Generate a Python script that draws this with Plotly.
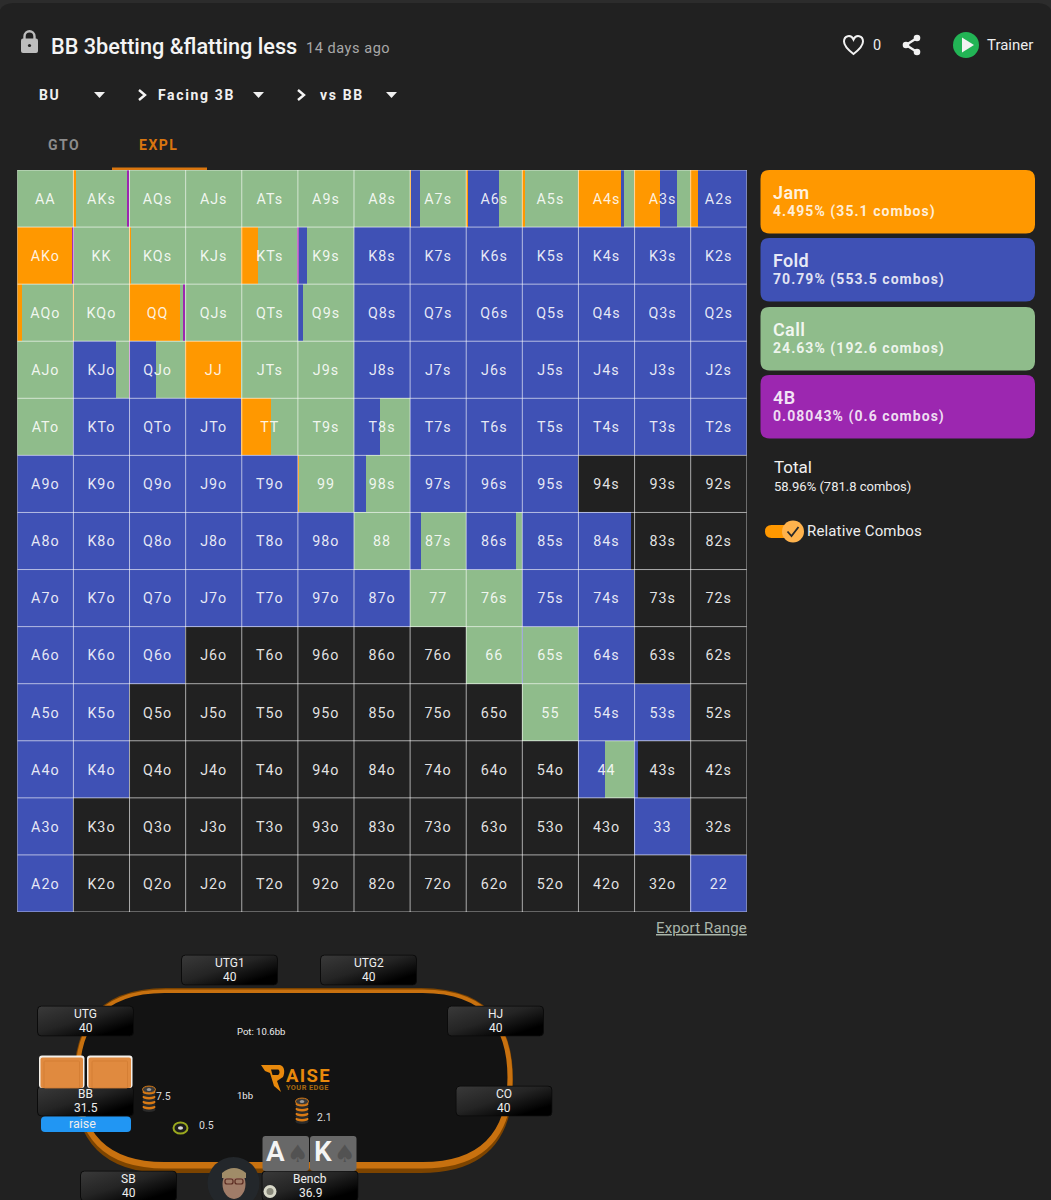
import urllib.parse
import plotly.graph_objects as go

# ---------- data ----------
ranks = ["A", "K", "Q", "J", "T", "9", "8", "7", "6", "5", "4", "3", "2"]
action_names = ["Jam", "Fold", "Call", "4B"]
action_pct = ["4.495% (35.1 combos)", "70.79% (553.5 combos)", "24.63% (192.6 combos)", "0.08043% (0.6 combos)"]
action_colors = {"Jam": "#ff9800", "Fold": "#3f51b5", "Call": "#8fbc8b", "4B": "#9c27b0"}

# every hand at 100% of one action
pure_call = ["AA", "AQs", "AJs", "ATs", "A9s", "A8s", "KK", "KJs", "QJs", "QTs", "AJo", "JTs", "J9s",
             "ATo", "T9s", "88", "77", "76s", "66", "55"]
pure_jam = ["JJ"]
pure_fold = ["K8s", "K7s", "K6s", "K5s", "K4s", "K3s", "K2s",
             "Q8s", "Q7s", "Q6s", "Q5s", "Q4s", "Q3s", "Q2s",
             "J8s", "J7s", "J6s", "J5s", "J4s", "J3s", "J2s",
             "KTo", "QTo", "JTo", "T7s", "T6s", "T5s", "T4s", "T3s", "T2s",
             "A9o", "K9o", "Q9o", "J9o", "T9o", "97s", "96s", "95s",
             "A8o", "K8o", "Q8o", "J8o", "T8o", "98o", "85s",
             "A7o", "K7o", "Q7o", "J7o", "T7o", "97o", "87o", "75s", "74s",
             "A6o", "K6o", "Q6o", "64s", "A5o", "K5o", "54s", "53s",
             "A4o", "K4o", "A3o", "33", "A2o", "22"]
# mixed hands: left-to-right (action, share of the cell)
mixed = {
    "AKs": [("Jam", .06), ("Call", .91), ("4B", .03)],
    "A7s": [("Jam", .02), ("Fold", .16), ("Call", .82)],
    "A6s": [("Jam", .03), ("Fold", .56), ("Call", .41)],
    "A5s": [("Jam", .06), ("Call", .94)],
    "A4s": [("Jam", .78), ("Fold", .03), ("Call", .19)],
    "A3s": [("Jam", .45), ("Fold", .31), ("Call", .24)],
    "A2s": [("Jam", .13), ("Fold", .87)],
    "AKo": [("Jam", .99), ("4B", .01)],
    "KQs": [("Jam", .04), ("Call", .96)],
    "KTs": [("Jam", .30), ("Call", .70)],
    "K9s": [("4B", .02), ("Fold", .14), ("Call", .84)],
    "AQo": [("Jam", .09), ("Call", .91)],
    "KQo": [("Jam", .02), ("Call", .98)],
    "QQ": [("Jam", .90), ("Call", .05), ("4B", .05)],
    "Q9s": [("Fold", .09), ("Call", .91)],
    "KJo": [("Fold", .76), ("Call", .24)],
    "QJo": [("4B", .01), ("Fold", .47), ("Call", .52)],
    "TT": [("Jam", .52), ("Call", .48)],
    "T8s": [("Fold", .46), ("Call", .54)],
    "99": [("Jam", .02), ("Call", .98)],
    "98s": [("Fold", .22), ("Call", .78)],
    "87s": [("Fold", .20), ("Call", .80)],
    "86s": [("Fold", .89), ("Call", .11)],
    "84s": [("Fold", .95)],
    "65s": [("Fold", .02), ("Call", .98)],
    "44": [("Fold", .47), ("Call", .53)],
    "43s": [("Fold", .07)],
}

seat_names = ["UTG1", "UTG2", "UTG", "HJ", "BB", "CO", "SB", "Bencb"]
seat_stacks = ["40", "40", "40", "40", "31.5", "40", "40", "36.9"]

# ---------- helpers ----------
W, H = 1051, 1200
BG = "#212121"
GRID_X0, GRID_X1, GRID_Y0, GRID_Y1 = 17.3, 746.8, 170, 912


def hand(r, c):
    if r == c:
        return ranks[r] * 2
    if c > r:
        return ranks[r] + ranks[c] + "s"
    return ranks[c] + ranks[r] + "o"


def spaced(t, sp):
    return f'<span style="letter-spacing:{sp}px">{t}</span>'


def rrect(x0, y0, x1, y1, r):
    return (f"M{x0+r},{y0}L{x1-r},{y0}Q{x1},{y0} {x1},{y0+r}L{x1},{y1-r}Q{x1},{y1} {x1-r},{y1}"
            f"L{x0+r},{y1}Q{x0},{y1} {x0},{y1-r}L{x0},{y0+r}Q{x0},{y0} {x0+r},{y0}Z")


shapes, annos, images = [], [], []


def path(d, fill="rgba(0,0,0,0)", line=None, lw=0, layer="above"):
    shapes.append(dict(type="path", xref="x", yref="y", path=d, fillcolor=fill, layer=layer,
                       line=dict(color=line or "rgba(0,0,0,0)", width=lw)))


def circle(cx, cy, rx, ry, fill, layer="above", line=None, lw=0):
    shapes.append(dict(type="circle", xref="x", yref="y", x0=cx-rx, x1=cx+rx, y0=cy-ry, y1=cy+ry,
                       fillcolor=fill, layer=layer, line=dict(color=line or "rgba(0,0,0,0)", width=lw)))


def text(x, y, t, size, color="#ffffff", weight=400, anchor="left", family="Roboto", sp=None, **font):
    annos.append(dict(xref="x", yref="y", x=x, y=y, text=spaced(t, sp) if sp else t, showarrow=False,
                      xanchor=anchor, yanchor="middle", borderpad=0, borderwidth=0,
                      font=dict(family=family, size=size, color=color, weight=weight, **font)))


# ---------- range grid ----------
fig = go.Figure()
fig.add_trace(go.Scatter(x=[], y=[], xaxis="x", yaxis="y"))
segments = {a: dict(x=[], y=[], base=[]) for a in action_names}
labels_x, labels_y, labels_t = [], [], []
for r in range(13):
    for c in range(13):
        h = hand(r, c)
        labels_x.append(c + .5)
        labels_y.append(r + .53)
        labels_t.append(spaced(h, 1))
        if h in mixed:
            mix = mixed[h]
        elif h in pure_call:
            mix = [("Call", 1)]
        elif h in pure_jam:
            mix = [("Jam", 1)]
        elif h in pure_fold:
            mix = [("Fold", 1)]
        else:
            mix = []
        left = c
        for act, share in mix:
            segments[act]["x"].append(share)
            segments[act]["y"].append(r + .5)
            segments[act]["base"].append(left)
            left += share

for act in action_names:
    s = segments[act]
    fig.add_trace(go.Bar(orientation="h", x=s["x"], y=s["y"], base=s["base"], width=1, name=act,
                         marker=dict(color=action_colors[act], line=dict(width=0)),
                         xaxis="x2", yaxis="y2", hoverinfo="skip"))

gx, gy = [], []
for i in range(14):
    gx += [i, i, None, 0, 13, None]
    gy += [0, 13, None, i, i, None]
fig.add_trace(go.Scatter(x=gx, y=gy, mode="lines", xaxis="x2", yaxis="y2", hoverinfo="skip",
                         line=dict(color="rgba(255,255,255,0.62)", width=1), cliponaxis=False))
fig.add_trace(go.Scatter(x=labels_x, y=labels_y, text=labels_t, mode="text", xaxis="x2", yaxis="y2", hoverinfo="skip",
                         textfont=dict(family="Roboto", size=14.3, color="rgba(255,255,255,0.88)"),
                         textposition="middle center"))

# ---------- page chrome ----------
path(f"M0,0L{W},0L{W},{H}L0,{H}Z", fill="#2c2c2c", layer="below")
path(rrect(-2, 3, W + 2, H + 30, 16), fill=BG, layer="below")

# lock
path("M24.5,39L24.5,36.5C24.5,29.5 34.5,29.5 34.5,36.5L34.5,39", line="#bdbdbd", lw=2.4)
path(rrect(21, 38.5, 38, 53, 2), fill="#bdbdbd")
circle(29.5, 45.5, 1.6, 1.6, BG)

text(51, 46, "BB 3betting &flatting less", 21.7, "#f4f4f4", 500)
text(306, 48, "14 days ago", 14.5, "#a8a8a8", 400, sp=.55)

for x, t in [(39, "BU"), (158, "Facing 3B"), (320, "vs BB")]:
    text(x, 95, t, 14, "#f0f0f0", 700, sp=1.65)
for x in (94, 253, 386):
    path(f"M{x},92L{x+11},92L{x+5.5},98Z", fill="#f0f0f0")
for x in (139, 298):
    path(f"M{x},90L{x+6},95L{x},100", line="#f4f4f4", lw=2.4)

text(48, 145, "GTO", 14, "#8c8c8c", 700, sp=1.5)
text(139, 145, "EXPL", 14, "#d9760f", 700, sp=1.5)
path(rrect(112, 167.5, 207, 170, .1), fill="#d9760f")

# heart / share / trainer
path("M853.5,54C847,49 844,45.5 844,41.5C844,35.5 851,34 853.5,39.5C856,34 863,35.5 863,41.5C863,45.5 860,49 853.5,54Z",
     line="#f2f2f2", lw=2)
text(873, 45, "0", 14.5, "#eeeeee")
path("M917,38L906,45L917,52", line="#f2f2f2", lw=2.4)
circle(917, 38, 3.3, 3.3, "#f2f2f2")
circle(906, 45, 3.3, 3.3, "#f2f2f2")
circle(917, 52, 3.3, 3.3, "#f2f2f2")
circle(966, 45, 13, 13, "#22b455")
path("M962,37.5L974,45L962,52.5Z", fill="#f2f2f2")
text(987, 44.5, "Trainer", 15, "#eeeeee")

# legend cards
card_tops = [170, 238, 307, 375]
for name, pct, top in zip(action_names, action_pct, card_tops):
    path(rrect(760.5, top, 1035, top + 63.5, 9), fill=action_colors[name])
    text(773, top + 22.5, name, 18, "rgba(255,255,255,0.88)", 600, sp=.35)
    text(773, top + 41.5, pct, 14, "rgba(255,255,255,0.85)", 700, sp=1.05)

text(774, 467, "Total", 17, "#f0f0f0")
text(774, 486, "58.96% (781.8 combos)", 13, "#eeeeee")
path(rrect(765, 525, 798, 538, 6.5), fill="#ff9800")
circle(793, 531.5, 11, 11, "#ffb34d")
path("M787.5,531.5L791.5,536L798.5,527", line="#2a2a2a", lw=1.8)
text(807, 531, "Relative Combos", 15, "#eeeeee", sp=.15)
text(747, 928, "Export Range", 15, "#aab5aa", 400, anchor="right", lineposition="under", sp=.15)

# ---------- table ----------
path(rrect(74, 988, 513, 1173, 92), fill="#7d4400", layer="below")
path(rrect(75, 989.5, 512.5, 1168.5, 90), fill="#c8710f", layer="below")
path(rrect(79.5, 993, 507.5, 1162, 85), fill="#131313", layer="below")


def seat_svg():
    svg = ('<svg xmlns="http://www.w3.org/2000/svg" width="97" height="31"><defs>'
           '<linearGradient id="g" x1="0" y1="0" x2="1" y2="1">'
           '<stop offset="0" stop-color="#3a3a3a"/><stop offset="0.45" stop-color="#242424"/>'
           '<stop offset="0.82" stop-color="#000000"/></linearGradient></defs>'
           '<rect x="0.5" y="0.5" width="96" height="30" rx="4" fill="url(#g)" stroke="#0b0b0b"/></svg>')
    return "data:image/svg+xml," + urllib.parse.quote(svg)


seat_xy = [(229.5, 970), (368.5, 970), (85.5, 1021), (495.5, 1021), (85.5, 1101), (504, 1101), (128.5, 1186), (310, 1186)]
for (cx, cy), n, st in zip(seat_xy, seat_names, seat_stacks):
    images.append(dict(source=seat_svg(), xref="x", yref="y", x=cx - 48.5, y=cy - 15.5, sizex=97, sizey=31,
                       xanchor="left", yanchor="top", sizing="stretch", layer="above"))
    text(cx, cy - 7, n, 12, "#eeeeee", anchor="center")
    text(cx, cy + 7.3, st, 12, "#eeeeee", anchor="center")

# BB hole cards and action
for x0 in (39, 87):
    path(rrect(x0, 1055.5, x0 + 45.5, 1088, 3), fill="#f4f0ea")
    path(rrect(x0 + 1.5, 1057.5, x0 + 44, 1088, 2), fill="#e08a3f")
    path(rrect(x0 + 5, 1061, x0 + 40.5, 1088, 1), line="#d27c32", lw=.8)
path(rrect(41, 1116.5, 131, 1132, 4), fill="#2196f3")
text(82, 1123.5, "raise", 12.5, "#eeeeee", anchor="center")

# table labels
text(237, 1031, "Pot: 10.6bb", 9.5, "#eeeeee")
text(237, 1095, "1bb", 9.5, "#eeeeee")
text(156, 1096, "7.5", 10.5, "#dddddd")
text(199, 1125, "0.5", 10.5, "#dddddd")
text(317, 1117, "2.1", 10.5, "#dddddd")

# chips
for cx, top in [(149, 1086), (302, 1098)]:
    for i in range(9):
        y = top + 23.5 - i * 2.5
        circle(cx, y, 6.5, 2.6, "#d97a14" if i % 2 else "#2a2a2a")
    circle(cx, top + 3.5, 6.5, 3.4, "#3a3a3a", line="#d97a14", lw=1)
    circle(cx, top + 3.5, 2.2, 1.6, "#9a9a9a")
circle(180.5, 1128, 7, 5.6, "#1c1c1c", line="#9aa81e", lw=2)
circle(180.5, 1128, 2.6, 1.8, "#d9d9d9")

# logo
path("M261,1065L280,1065C285,1066 285,1073 283,1077L277,1081L281,1092L274,1086L270,1073L265,1071Z", fill="#e8890c")
path("M271,1069.5L278,1069.5C280,1070 280,1074 278,1075L272.5,1075Z", fill="#131313")
text(286, 1075.5, "AISE", 18.5, "#e8890c", 700, sp=1.3)
text(286, 1087, "YOUR EDGE", 7.4, "#a86a10", 700, sp=.4)

# hero cards
for x0, rank in [(262.5, "A"), (310, "K")]:
    path(rrect(x0, 1136, x0 + 46.5, 1171, 3), fill="#686868")
    text(x0 + 13, 1151.5, rank, 28, "#f4f4f4", 600, anchor="center")
    text(x0 + 35, 1153.5, "\u2660", 24, "#525252", anchor="center", family="DejaVu Sans")

# avatar
circle(233.5, 1183, 26, 26, "#23272b", layer="above")
circle(234, 1184, 11.5, 15, "#a07c68", layer="above")
path("M222,1173Q234,1163 246,1173L246,1178L222,1178Z", fill="#a08c68")
path(rrect(225, 1179, 233, 1184, 2), line="#5a2a20", lw=1.2)
path(rrect(235, 1179, 243, 1184, 2), line="#5a2a20", lw=1.2)
circle(270, 1191.5, 6.5, 6.5, "#d8d8c8")
circle(270, 1191.5, 3.5, 3.5, "#8a8a7c")

fig.update_layout(
    width=W, height=H, margin=dict(l=0, r=0, t=0, b=0), autosize=False,
    paper_bgcolor=BG, plot_bgcolor="rgba(0,0,0,0)", showlegend=False, barmode="overlay", bargap=0,
    xaxis2=dict(domain=[GRID_X0 / W, GRID_X1 / W], range=[0, 13], visible=False, fixedrange=True, anchor="y2"),
    yaxis2=dict(domain=[1 - GRID_Y1 / H, 1 - GRID_Y0 / H], range=[13, 0], visible=False, fixedrange=True, anchor="x2"),
    xaxis=dict(domain=[0, 1], range=[0, W], visible=False, fixedrange=True),
    yaxis=dict(domain=[0, 1], range=[H, 0], visible=False, fixedrange=True),
    shapes=shapes, annotations=annos, images=images,
)
fig.write_html("out.html", config={"displayModeBar": False},
               post_script="document.body.style.margin='0';document.body.style.background='#212121';document.documentElement.style.overflow='hidden';")
